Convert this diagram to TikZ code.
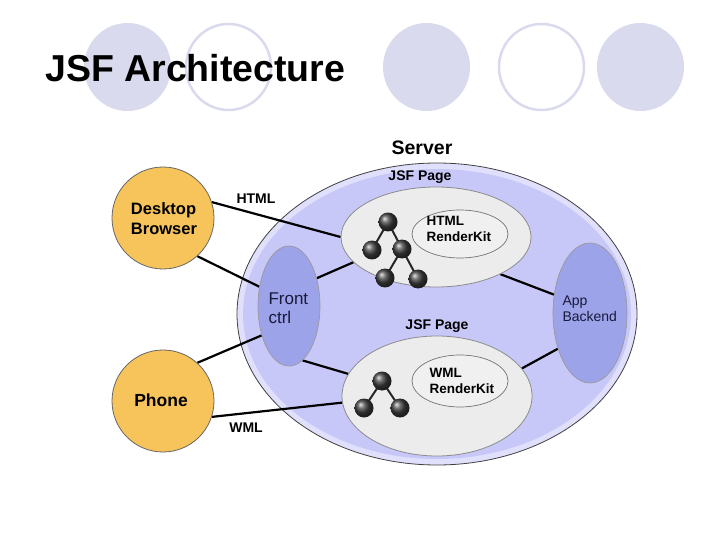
\documentclass[tikz,border=0pt]{standalone}
\usepackage{fontspec}
\setmainfont{Liberation Sans}
\usetikzlibrary{shapes.geometric}
\pgfdeclarelayer{bg}
\pgfdeclarelayer{conn}
\pgfdeclarelayer{treel}
\pgfdeclarelayer{fg}
\pgfsetlayers{bg,conn,main,treel,fg}
\definecolor{deco}{RGB}{218,218,238}
\definecolor{serverfill}{RGB}{200,200,248}
\definecolor{serverrim}{RGB}{224,224,252}
\definecolor{pagefill}{RGB}{236,236,236}
\definecolor{kitfill}{RGB}{240,240,240}
\definecolor{ctrlfill}{RGB}{156,163,232}
\definecolor{clientfill}{RGB}{247,196,92}
\definecolor{ctrltext}{RGB}{25,25,60}
\begin{document}
\begin{tikzpicture}[x=1pt,y=-1pt,
  decofill/.style={ellipse, fill=deco, minimum width=87, minimum height=88, inner sep=0},
  decoring/.style={ellipse, draw=deco, line width=2.5, minimum width=85, minimum height=86, inner sep=0},
  client/.style={circle, fill=clientfill, draw=black!60, line width=0.8, minimum size=102, inner sep=0},
  clienttext/.style={font=\bfseries\fontsize{16.5}{20}\selectfont, align=left},
  page/.style={ellipse, fill=pagefill, draw=black!45, line width=0.8, inner sep=0},
  kit/.style={ellipse, fill=kitfill, draw=black!55, line width=0.7, inner sep=0},
  kittext/.style={font=\bfseries\fontsize{13.5}{16.5}\selectfont, align=left},
  ctrl/.style={ellipse, fill=ctrlfill, draw=black!40, line width=0.7, inner sep=0},
  ctrltxt/.style={font=\fontsize{17}{19}\selectfont, text=ctrltext, align=left},
  lbl/.style={font=\bfseries\fontsize{14}{16}\selectfont},
  dot/.style={circle, shading=ball, ball color=black!75, minimum size=19, inner sep=0},
  conline/.style={line width=2.2, black},
  treeline/.style={line width=2, black!85}
]
\useasboundingbox (0,0) rectangle (720,540);

% decorative circles
\begin{pgfonlayer}{bg}
\node[decofill] (d1) at (127.5,67) {};
\node[decoring] (d2) at (228.5,67) {};
\node[decofill] (d3) at (426.5,67) {};
\node[decoring] (d4) at (541.5,67) {};
\node[decofill] (d5) at (640.5,67) {};
% server
\node[ellipse, fill=serverrim, draw=black!75, line width=0.8, minimum width=400, minimum height=302, inner sep=0] (server) at (437,314) {};
\fill[serverfill] (437,314) ellipse [x radius=194, y radius=145];
\end{pgfonlayer}

\node[font=\bfseries\fontsize{37.5}{40}\selectfont, anchor=base west, inner sep=0] (title) at (45,82) {JSF Architecture};

\node[font=\bfseries\fontsize{19.5}{22}\selectfont] (serverlbl) at (422,148) {Server};
\node[lbl] (jsf1) at (420,177) {JSF Page};
\node[lbl] (jsf2) at (437,326) {JSF Page};

% clients
\node[client] (desk) at (163,218) {};
\node[clienttext] at (164,219) {Desktop\\Browser};
\node[client] (phone) at (163,401) {};
\node[clienttext, font=\bfseries\fontsize{17.5}{20}\selectfont] at (161,400) {Phone};

% pages
\node[page, minimum width=190, minimum height=100] (top) at (436,237) {};
\node[page, minimum width=190, minimum height=120] (bot) at (437,396) {};
\node[kit, minimum width=96, minimum height=48] (hkit) at (460,234) {};
\node[kittext, anchor=west] at (423,229) {HTML\\RenderKit};
\node[kit, minimum width=96, minimum height=52] (wkit) at (460,381) {};
\node[kittext, anchor=west] at (426,381) {WML\\RenderKit};

% controllers
\node[ctrl, minimum width=62, minimum height=120] (front) at (289,306) {};
\node[ctrltxt, anchor=west] at (265,308) {Front\\ctrl};
\node[ctrl, minimum width=74, minimum height=140] (app) at (590,313) {};
\node[ctrltxt, font=\fontsize{14}{15.5}\selectfont, anchor=west] at (559,309) {App\\Backend};

% tree dots
\begin{pgfonlayer}{fg}
\node[dot] (t1) at (388,222) {};
\node[dot] (t2) at (372,250) {};
\node[dot] (t3) at (402,249) {};
\node[dot] (t4) at (385,278) {};
\node[dot] (t5) at (418,279) {};
\node[dot] (w1) at (382,381) {};
\node[dot] (w2) at (364,408) {};
\node[dot] (w3) at (400,408) {};
\end{pgfonlayer}
\begin{pgfonlayer}{treel}
\draw[treeline] (t1.center) -- (t2.center);
\draw[treeline] (t1.center) -- (t3.center);
\draw[treeline] (t3.center) -- (t4.center);
\draw[treeline] (t3.center) -- (t5.center);
\draw[treeline] (w1.center) -- (w2.center);
\draw[treeline] (w1.center) -- (w3.center);
\end{pgfonlayer}

% connectors
\begin{pgfonlayer}{conn}
\draw[conline] (desk.18) -- (top.180);
\draw[conline] (desk.-48) -- (front.147);
\draw[conline] (front.45) -- (top.-163);
\draw[conline] (phone.48) -- (front.-133);
\draw[conline] (front.-76) -- (bot.166);
\draw[conline] (phone.-18) -- (bot.184);
\draw[conline] (top.-30) -- (app.153);
\draw[conline] (bot.18) -- (app.-132);
\end{pgfonlayer}

\node[lbl] (htmllbl) at (256,199) {HTML};
\node[lbl] (wmllbl) at (246,428) {WML};
\end{tikzpicture}
\end{document}
